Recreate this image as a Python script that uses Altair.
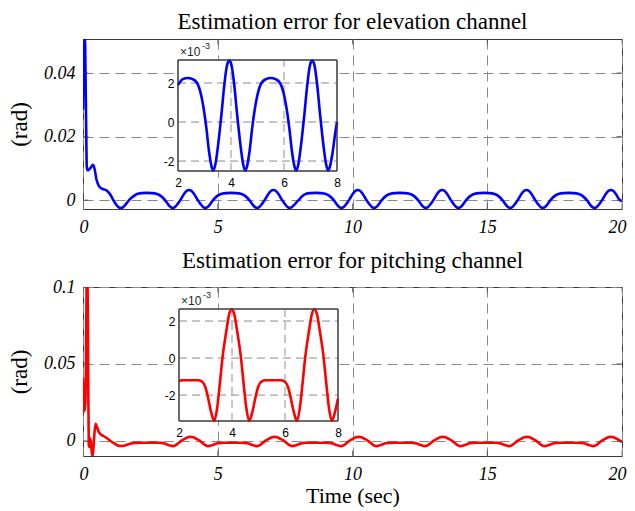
import altair as alt
import pandas as pd

# ---------------- data (values in units of 1e-3 rad) ----------------
elev_t = [
    0.0, 0.02, 0.04, 0.075, 0.09, 0.115, 0.14, 0.17, 0.22, 0.30, 0.37, 0.43, 0.50, 0.58, 0.68,
    0.805, 0.90, 1.00, 1.10, 1.20, 1.30, 1.40, 1.49, 1.59, 1.71, 1.81, 1.92, 2.00, 2.18,
    2.37, 2.55, 2.72, 2.87, 2.99, 3.07, 3.17, 3.27, 3.335, 3.42, 3.52, 3.64, 3.74, 3.84, 3.935,
    4.03, 4.13, 4.23, 4.35, 4.45, 4.535, 4.60, 4.70, 4.80, 4.88, 5.00, 5.15, 5.32,
    5.50, 5.68, 5.85, 6.00, 6.12, 6.20, 6.30, 6.40, 6.465, 6.55, 6.65, 6.77, 6.87, 6.97, 7.065,
    7.16, 7.26, 7.36, 7.48, 7.58, 7.665, 7.73, 7.83, 7.93, 8.00, 8.13, 8.28, 8.45,
    8.63, 8.81, 8.98, 9.13, 9.25, 9.33, 9.43, 9.53, 9.595, 9.68, 9.78, 9.90, 10.00, 10.10, 10.195,
    10.29, 10.39, 10.49, 10.61, 10.71, 10.795, 10.86, 10.96, 11.06, 11.14, 11.26, 11.41, 11.58,
    11.76, 11.94, 12.11, 12.26, 12.38, 12.46, 12.56, 12.66, 12.725, 12.81, 12.91, 13.03, 13.13, 13.23, 13.325,
    13.42, 13.52, 13.62, 13.74, 13.84, 13.925, 13.99, 14.09, 14.19, 14.27, 14.39, 14.54, 14.71,
    14.89, 15.07, 15.24, 15.39, 15.51, 15.59, 15.69, 15.79, 15.855, 15.94, 16.04, 16.16, 16.26, 16.36, 16.455,
    16.55, 16.65, 16.75, 16.87, 16.97, 17.055, 17.12, 17.22, 17.32, 17.40, 17.52, 17.67, 17.84,
    18.02, 18.20, 18.37, 18.52, 18.64, 18.72, 18.82, 18.92, 18.985, 19.07, 19.17, 19.29, 19.39, 19.49, 19.585,
    19.68, 19.78, 19.88, 20.0,
]
elev_v = [
    28.4, 44, 50.7, 50.7, 42, 25, 10.5, 9.4, 9.6, 10.4, 11.1, 9.8, 6.5, 4.6, 3.7,
    3.3, 2.9, 1.9, 0.4, -1.1, -2.1, -2.5, -2.2, -1.3, 0.0, 0.8, 1.5, 1.9, 2.2,
    2.26, 2.2, 2.0, 1.4, 0.5, -0.3, -1.5, -2.3, -2.5, -2.1, -1.1, 0.4, 1.8, 2.85, 3.16,
    2.85, 1.8, 0.4, -1.1, -2.1, -2.5, -2.3, -1.5, -0.3, 0.5, 1.4, 2.0, 2.2,
    2.26, 2.2, 2.0, 1.4, 0.5, -0.3, -1.5, -2.3, -2.5, -2.1, -1.1, 0.4, 1.8, 2.85, 3.16,
    2.85, 1.8, 0.4, -1.1, -2.1, -2.5, -2.3, -1.6, -0.6, 0.0, 1.2, 2.0, 2.2,
    2.26, 2.2, 2.0, 1.4, 0.5, -0.3, -1.5, -2.3, -2.5, -2.1, -1.1, 0.4, 1.8, 2.85, 3.16,
    2.85, 1.8, 0.4, -1.1, -2.1, -2.5, -2.3, -1.5, -0.3, 0.5, 1.4, 2.0, 2.2,
    2.26, 2.2, 2.0, 1.4, 0.5, -0.3, -1.5, -2.3, -2.5, -2.1, -1.1, 0.4, 1.8, 2.85, 3.16,
    2.85, 1.8, 0.4, -1.1, -2.1, -2.5, -2.3, -1.5, -0.3, 0.5, 1.4, 2.0, 2.2,
    2.26, 2.2, 2.0, 1.4, 0.5, -0.3, -1.5, -2.3, -2.5, -2.1, -1.1, 0.4, 1.8, 2.85, 3.16,
    2.85, 1.8, 0.4, -1.1, -2.1, -2.5, -2.3, -1.5, -0.3, 0.5, 1.4, 2.0, 2.2,
    2.26, 2.2, 2.0, 1.4, 0.5, -0.3, -1.5, -2.3, -2.5, -2.1, -1.1, 0.4, 1.8, 2.85, 3.16,
    2.85, 1.8, 0.4, -0.4,
]

pitch_t = [
    0.0, 0.005, 0.02, 0.035, 0.05, 0.065, 0.085, 0.11, 0.135, 0.165, 0.19, 0.215, 0.245, 0.27,
    0.30, 0.33, 0.36, 0.39, 0.43, 0.47, 0.52, 0.58, 0.66, 0.76, 0.90, 1.03, 1.15, 1.27, 1.40,
    1.52, 1.65, 1.78, 1.90, 2.00, 2.12, 2.43, 2.74, 2.89, 2.99, 3.09, 3.21, 3.33, 3.44, 3.54,
    3.64, 3.79, 3.89,
    3.99, 4.09, 4.19, 4.34, 4.44, 4.54, 4.65, 4.77, 4.89, 4.99, 5.09, 5.24, 5.55, 5.86, 6.01,
    6.11, 6.21, 6.33, 6.45, 6.56, 6.66, 6.76, 6.91, 7.01,
    7.11, 7.21, 7.31, 7.46, 7.56, 7.66, 7.77, 7.89, 8.00, 8.11, 8.21, 8.36, 8.67, 8.98, 9.13,
    9.23, 9.33, 9.45, 9.57, 9.68, 9.78, 9.88, 10.03, 10.13,
    10.23, 10.33, 10.43, 10.58, 10.68, 10.78, 10.89, 11.01, 11.13, 11.23, 11.33, 11.48, 11.79, 12.10, 12.25,
    12.35, 12.45, 12.57, 12.69, 12.80, 12.90, 13.00, 13.15, 13.25,
    13.35, 13.45, 13.55, 13.70, 13.80, 13.90, 14.01, 14.13, 14.25, 14.35, 14.45, 14.60, 14.91, 15.22, 15.37,
    15.47, 15.57, 15.69, 15.81, 15.92, 16.02, 16.12, 16.27, 16.37,
    16.47, 16.57, 16.67, 16.82, 16.92, 17.02, 17.13, 17.25, 17.37, 17.47, 17.57, 17.72, 18.03, 18.34, 18.49,
    18.59, 18.69, 18.81, 18.93, 19.04, 19.14, 19.24, 19.39, 19.49,
    19.59, 19.69, 19.79, 19.94, 20.0,
]
pitch_v = [
    40.5, 18, 38, 19, 35, 20, 24, 50, 105, 110, 50, -3, -4, 1.5,
    -2, -8, -9.7, -4, 6, 11.2, 9, 6, 4.2, 3.2, 1.6, -0.2, -1.5, -2.8, -3.3,
    -3.1, -2.4, -1.7, -1.35, -1.25, -1.2, -1.2, -1.2, -1.3, -1.55, -2.1, -2.9, -3.4, -2.7, -1.4,
    0.0, 1.5, 2.35,
    2.64, 2.35, 1.5, 0.0, -1.4, -2.7, -3.4, -2.9, -2.1, -1.55, -1.3, -1.2, -1.2, -1.2, -1.3,
    -1.55, -2.1, -2.9, -3.4, -2.7, -1.4, 0.0, 1.5, 2.35,
    2.64, 2.35, 1.5, 0.0, -1.4, -2.7, -3.4, -2.9, -2.2, -1.55, -1.3, -1.2, -1.2, -1.2, -1.3,
    -1.55, -2.1, -2.9, -3.4, -2.7, -1.4, 0.0, 1.5, 2.35,
    2.64, 2.35, 1.5, 0.0, -1.4, -2.7, -3.4, -2.9, -2.1, -1.55, -1.3, -1.2, -1.2, -1.2, -1.3,
    -1.55, -2.1, -2.9, -3.4, -2.7, -1.4, 0.0, 1.5, 2.35,
    2.64, 2.35, 1.5, 0.0, -1.4, -2.7, -3.4, -2.9, -2.1, -1.55, -1.3, -1.2, -1.2, -1.2, -1.3,
    -1.55, -2.1, -2.9, -3.4, -2.7, -1.4, 0.0, 1.5, 2.35,
    2.64, 2.35, 1.5, 0.0, -1.4, -2.7, -3.4, -2.9, -2.1, -1.55, -1.3, -1.2, -1.2, -1.2, -1.3,
    -1.55, -2.1, -2.9, -3.4, -2.7, -1.4, 0.0, 1.5, 2.35,
    2.64, 2.35, 1.5, 0.0, -0.8,
]

X_TICKS = [0, 5, 10, 15, 20]
ELEV_YTICKS = [0, 0.02, 0.04]
PITCH_YTICKS = [0, 0.05, 0.1]
INSET_XTICKS = [2, 4, 6, 8]
INSET_XGRID = [4, 6]
INSET_YGRID = [-2, 0, 2]
ELEV_YDOM = [-0.0028, 0.0507]
PITCH_YDOM = [-0.0098, 0.1]
ELEV_INSET_YDOM = [-2.51, 3.18]
PITCH_INSET_YDOM = [-3.4, 2.65]

W = 539
SERIF = "Liberation Serif"
SANS = "Liberation Sans"
GRID = "#8a8a8a"
FRAME = "#3a3a3a"


def panel(t, v, color, title, ydom, yticks, inset_ydom, h, inset_x_px, inset_y_px, xtitle):
    df = pd.DataFrame({"t": t, "v": v})
    df["y"] = df["v"] / 1000.0

    xs = alt.Scale(domain=[0, 20], nice=False, zero=False)
    ys = alt.Scale(domain=ydom, nice=False, zero=False)

    xaxis_kw = dict(values=X_TICKS, orient="bottom", grid=True, gridDash=[10, 6], gridColor=GRID,
                    gridWidth=1, ticks=False, tickSize=0, domain=False, labelFlush=True,
                    labelFlushOffset=4, labelFont=SERIF, labelFontStyle="italic", labelFontSize=18,
                    labelColor="black", labelPadding=9)
    if xtitle:
        xaxis_kw.update(title=xtitle, titleFont=SERIF, titleFontSize=22, titleFontWeight="normal",
                        titleColor="black", titlePadding=2)
    else:
        xaxis_kw.update(title=None)
    xaxis = alt.Axis(**xaxis_kw)
    yaxis = alt.Axis(values=yticks, orient="left", grid=True, gridDash=[10, 6], gridColor=GRID,
                     gridWidth=1, ticks=False, tickSize=0, domain=False, format="~g", labelFont=SERIF,
                     labelFontStyle="italic", labelFontSize=18, labelColor="black", labelPadding=8,
                     title="(rad)", titleFont=SERIF, titleFontSize=23, titleFontWeight="normal",
                     titleColor="black", titlePadding=12)

    line = alt.Chart(df).mark_line(color=color, strokeWidth=2.6, clip=True, interpolate="monotone").encode(
        x=alt.X("t:Q", scale=xs, axis=xaxis),
        y=alt.Y("y:Q", scale=ys, axis=yaxis),
    )

    xt = pd.DataFrame({"t": X_TICKS * 2, "y": [ydom[0]] * len(X_TICKS) + [ydom[1]] * len(X_TICKS)})
    yt = pd.DataFrame({"t": [0] * len(yticks) + [20] * len(yticks), "y": yticks * 2})
    xtick = alt.Chart(xt).mark_tick(orient="vertical", size=11, thickness=1, color=FRAME, clip=True).encode(
        x=alt.X("t:Q", scale=xs, axis=None), y=alt.Y("y:Q", scale=ys, axis=None))
    ytick = alt.Chart(yt).mark_tick(orient="horizontal", size=11, thickness=1, color=FRAME, clip=True).encode(
        x=alt.X("t:Q", scale=xs, axis=None), y=alt.Y("y:Q", scale=ys, axis=None))

    # ---- inset ----
    ixs = alt.Scale(domain=[2, 8], range=inset_x_px, nice=False, zero=False)
    iys = alt.Scale(domain=inset_ydom, range=[inset_y_px[1], inset_y_px[0]], nice=False, zero=False)

    box = pd.DataFrame({"x0": [2], "x1": [8], "y0": [inset_ydom[0]], "y1": [inset_ydom[1]]})
    bg = alt.Chart(box).mark_rect(fill="white", stroke=FRAME, strokeWidth=1).encode(
        x=alt.X("x0:Q", scale=ixs, axis=None), x2="x1",
        y=alt.Y("y0:Q", scale=iys, axis=None), y2="y1")
    frame = alt.Chart(box).mark_rect(fillOpacity=0, stroke=FRAME, strokeWidth=1).encode(
        x=alt.X("x0:Q", scale=ixs, axis=None), x2="x1",
        y=alt.Y("y0:Q", scale=iys, axis=None), y2="y1")

    vg = pd.DataFrame({"gx": INSET_XGRID, "y0": [inset_ydom[0]] * 2, "y1": [inset_ydom[1]] * 2})
    hg = pd.DataFrame({"gy": INSET_YGRID, "x0": [2] * 3, "x1": [8] * 3})
    vgrid = alt.Chart(vg).mark_rule(color="#ababab", strokeDash=[8, 5], strokeWidth=1.3).encode(
        x=alt.X("gx:Q", scale=ixs, axis=None),
        y=alt.Y("y0:Q", scale=iys, axis=None), y2="y1")
    hgrid = alt.Chart(hg).mark_rule(color="#8a8a8a", strokeDash=[8, 5], strokeWidth=1).encode(
        y=alt.Y("gy:Q", scale=iys, axis=None),
        x=alt.X("x0:Q", scale=ixs, axis=None), x2="x1")

    ixaxis = alt.Axis(values=INSET_XTICKS, orient="bottom", offset=-(h - inset_y_px[1]), grid=False,
                      ticks=False, tickSize=0, domain=False, labelFont=SANS, labelFontSize=12,
                      labelColor="black", labelPadding=6, labelFlush=False, title=None)
    iyaxis = alt.Axis(values=INSET_YGRID, orient="left", offset=-inset_x_px[0], grid=False,
                      ticks=False, tickSize=0, domain=False, labelFont=SANS, labelFontSize=12,
                      labelColor="black", labelPadding=4, labelExpr="'' + datum.value", title=None)

    iline = alt.Chart(df).transform_filter("datum.t >= 2 && datum.t <= 8").mark_line(
        color=color, strokeWidth=2.6, interpolate="monotone").encode(
        x=alt.X("t:Q", scale=ixs, axis=ixaxis),
        y=alt.Y("v:Q", scale=iys, axis=iyaxis))

    lab = pd.DataFrame({"x": [2], "y": [inset_ydom[1]]})
    exp_base = alt.Chart(lab).mark_text(text="\u00d710", align="left", baseline="alphabetic", dx=2, dy=-4,
                                        font=SANS, fontSize=12, color="#262626").encode(
        x=alt.X("x:Q", scale=ixs, axis=None), y=alt.Y("y:Q", scale=iys, axis=None))
    exp_pow = alt.Chart(lab).mark_text(text="-3", align="left", baseline="alphabetic", dx=24, dy=-11,
                                       font=SANS, fontSize=9, color="#262626").encode(
        x=alt.X("x:Q", scale=ixs, axis=None), y=alt.Y("y:Q", scale=iys, axis=None))

    return alt.layer(line, xtick, ytick, bg, vgrid, hgrid, iline, frame, exp_base, exp_pow).resolve_scale(
        x="independent", y="independent").properties(width=W, height=h, title=title)


top = panel(elev_t, elev_v, "#0000ff", "Estimation error for elevation channel", ELEV_YDOM, ELEV_YTICKS,
            ELEV_INSET_YDOM, 170, [95, 254], [21, 132], None)
bottom = panel(pitch_t, pitch_v, "#ff0000", "Estimation error for pitching channel", PITCH_YDOM, PITCH_YTICKS,
               PITCH_INSET_YDOM, 169, [96, 255], [22, 134], "Time (sec)")

chart = alt.vconcat(top, bottom, spacing=12).properties(
    padding={"left": 0, "top": 2, "right": 0, "bottom": 0}, background="white"
).configure_view(stroke=FRAME, strokeWidth=1).configure_title(
    font=SERIF, fontSize=23, fontWeight="normal", color="black", offset=5, anchor="middle"
)

chart.save("out.html", embed_options={"renderer": "svg", "actions": False})
